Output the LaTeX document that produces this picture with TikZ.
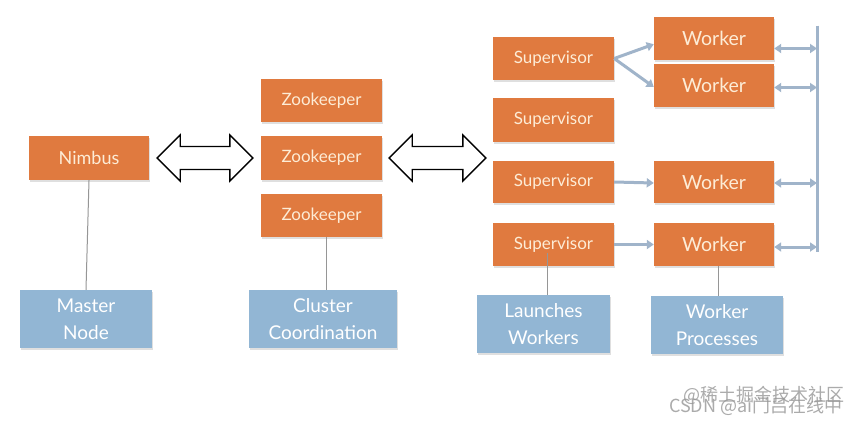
\documentclass[tikz,border=0pt]{standalone}
\usepackage{fontspec}
\setmainfont{Lato}
\newfontfamily\cjkfont{Noto Sans CJK SC}
\usetikzlibrary{arrows.meta,calc,shadows}
\definecolor{boxorange}{RGB}{224,122,63}
\definecolor{boxblue}{RGB}{146,182,212}
\definecolor{txtorange}{RGB}{253,236,214}
\definecolor{linegray}{RGB}{150,150,150}
\definecolor{busblue}{RGB}{160,180,202}
\definecolor{wmgray}{RGB}{150,150,150}
\tikzset{
  obox/.style={fill=boxorange, draw=none, text=txtorange, inner sep=0pt, align=center,
    font=\fontsize{17}{19}\selectfont,
    drop shadow={opacity=0.25, shadow xshift=0.6pt, shadow yshift=-1.5pt}},
  wbox/.style={obox, font=\fontsize{19.5}{21}\selectfont},
  bbox/.style={fill=boxblue, draw=none, text=white, inner sep=0pt, align=center,
    font=\fontsize{19}{27}\selectfont,
    drop shadow={opacity=0.25, shadow xshift=0.6pt, shadow yshift=-1.5pt}},
  tie/.style={draw=linegray, line width=1pt},
  blockarrow/.style={draw=black, fill=white, line width=1.4pt, line join=miter},
  busline/.style={draw=busblue, line width=3pt},
  busarrow/.style={draw=busblue, line width=3pt, -{Triangle[length=7pt,width=9pt]}},
  busdarrow/.style={draw=busblue, line width=3pt, {Triangle[length=7pt,width=9pt]}-{Triangle[length=7pt,width=9pt]}},
  wmark/.style={text=wmgray, opacity=0.8, font=\cjkfont\fontsize{18}{20}\selectfont, anchor=east},
}
\newcommand\blockdarrow[2]{%
  \draw[blockarrow] let \p1=#1, \p2=#2 in
    (\x1,\y1) -- (\x1+23pt,\y1+23pt) -- (\x1+23pt,\y1+11.5pt) -- (\x2-23pt,\y1+11.5pt)
    -- (\x2-23pt,\y1+23pt) -- (\x2,\y1) -- (\x2-23pt,\y1-23pt) -- (\x2-23pt,\y1-11.5pt)
    -- (\x1+23pt,\y1-11.5pt) -- (\x1+23pt,\y1-23pt) -- cycle;}
\begin{document}
\begin{tikzpicture}[x=1pt,y=-1pt]
\useasboundingbox[fill=white] (0,0) rectangle (861,426);

% master
\node[obox, minimum width=120pt, minimum height=44pt, font=\fontsize{18}{20}\selectfont] (nimbus) at (89,158) {Nimbus};
\node[bbox, minimum width=132pt, minimum height=58pt] (master) at (86,319) {Master\\Node};

% zookeepers
\node[obox, minimum width=121pt, minimum height=43pt] (zk1) at (321.5,100.5) {Zookeeper};
\node[obox, minimum width=121pt, minimum height=44pt] (zk2) at (321.5,158) {Zookeeper};
\node[obox, minimum width=121pt, minimum height=43pt] (zk3) at (321.5,215.5) {Zookeeper};
\node[bbox, minimum width=148pt, minimum height=58pt] (cluster) at (323,319) {Cluster\\Coordination};

% supervisors
\node[obox, minimum width=121pt, minimum height=43pt] (s1) at (553.5,58.5) {Supervisor};
\node[obox, minimum width=121pt, minimum height=44pt] (s2) at (553.5,120) {Supervisor};
\node[obox, minimum width=121pt, minimum height=42pt] (s3) at (553.5,182) {Supervisor};
\node[obox, minimum width=121pt, minimum height=43pt] (s4) at (553.5,244.5) {Supervisor};
\node[bbox, minimum width=133pt, minimum height=58pt] (launch) at (543.5,324) {Launches\\Workers};

% workers
\node[wbox, minimum width=120pt, minimum height=43pt] (w1) at (714,38.5) {Worker};
\node[wbox, minimum width=120pt, minimum height=43pt] (w2) at (714,85.5) {Worker};
\node[wbox, minimum width=120pt, minimum height=42pt] (w3) at (714,182) {Worker};
\node[wbox, minimum width=120pt, minimum height=43pt] (w4) at (714,244.5) {Worker};
\node[bbox, minimum width=132pt, minimum height=58pt] (wproc) at (717,325) {Worker\\Processes};

% ties to descriptions
\draw[tie] (nimbus.south) -- (master.north);
\draw[tie] ([xshift=4.5pt]zk3.south) -- ([xshift=4.5pt]zk3.south |- cluster.north);
\draw[tie] ([xshift=-6.5pt,yshift=13pt]s4.south) -- ([xshift=-6.5pt]s4.south |- launch.north);
\draw[tie] ([xshift=4pt]w4.south) -- ([xshift=4pt]w4.south |- wproc.north);

% block double arrows
\blockdarrow{($(nimbus.east)+(8,0)$)}{($(zk2.west)+(-8,0)$)}
\blockdarrow{($(zk2.east)+(7,0)$)}{($(s3.west |- zk2.west)+(-7,0)$)}

% supervisor -> worker
\coordinate (split) at (s1.east);
\draw[busarrow] (split) -- ([yshift=16pt]w1.south west);
\draw[busarrow] (split) -- ([yshift=-1.5pt]w2.west);
\draw[busarrow] (s3.east) -- ([yshift=-1pt]w3.west);
\draw[busarrow] (s4.east) -- (w4.west);

% right bus
\coordinate (bustop) at (817,27);
\coordinate (busbot) at (817,250);
\draw[busline] ([yshift=1.5pt]bustop) -- ([yshift=-1.5pt]busbot);
\draw[busdarrow] ([yshift=-10pt]w1.east) -- ([yshift=-10pt]w1.east -| bustop);
\draw[busdarrow] ([yshift=-2pt]w2.east) -- ([yshift=-2pt]w2.east -| bustop);
\draw[busdarrow] ([yshift=-1pt]w3.east) -- ([yshift=-1pt]w3.east -| bustop);
\draw[busdarrow] ([yshift=-2.5pt]w4.east) -- ([yshift=-2.5pt]w4.east -| bustop);

% watermark
\node[wmark] (wm1) at (848,395) {@稀土掘金技术社区};
\node[wmark] (wm2) at (846,406) {CSDN @ai门吕在线中};
\end{tikzpicture}
\end{document}
